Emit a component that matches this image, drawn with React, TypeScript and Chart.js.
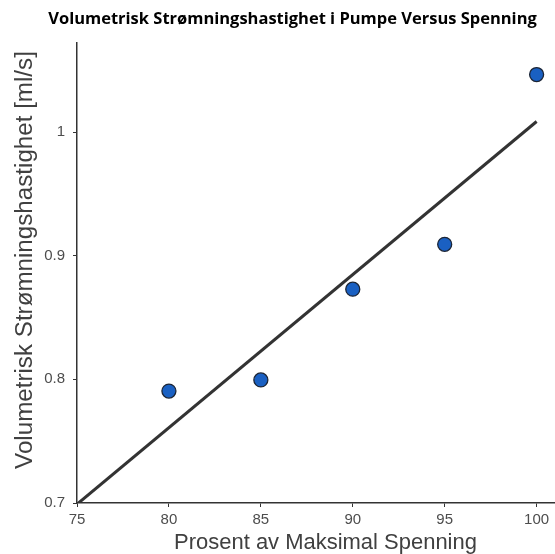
import React, { useEffect, useRef } from "react";
import { Chart, registerables } from "chart.js";

Chart.register(...registerables);

const titleText = "Volumetrisk Strømningshastighet i Pumpe Versus Spenning";
const xTitle = "Prosent av Maksimal Spenning";
const yTitle = "Volumetrisk Strømningshastighet [ml/s]";

const xValues = [80, 85, 90, 95, 100];
const yValues = [0.7905, 0.7995, 0.8729, 0.9092, 1.0465];

const fitX = [75, 100];
const fitY = [0.699, 1.0085];

const xTicks = [75, 80, 85, 90, 95, 100];
const yTicks = [0.7, 0.8, 0.9, 1];

const W = 555;
const H = 554;

const fitFont = (ctx: CanvasRenderingContext2D, text: string, weight: string, family: string, target: number) => {
  ctx.font = `${weight} 20px ${family}`;
  const w = ctx.measureText(text).width;
  return (20 * target) / w;
};

const textPlugin = {
  id: "textPlugin",
  afterDraw(chart: any) {
    const ctx = chart.ctx as CanvasRenderingContext2D;
    ctx.save();
    const tSize = fitFont(ctx, titleText, "bold", "'Open Sans', 'Liberation Sans', sans-serif", 489);
    ctx.font = `bold ${tSize}px 'Open Sans', 'Liberation Sans', sans-serif`;
    ctx.fillStyle = "#000";
    ctx.textAlign = "center";
    ctx.textBaseline = "middle";
    ctx.fillText(titleText, 292.5, 19);

    const xSize = fitFont(ctx, xTitle, "normal", "'Liberation Sans', Arial, sans-serif", 303);
    ctx.font = `${xSize}px 'Liberation Sans', Arial, sans-serif`;
    ctx.fillStyle = "#404040";
    ctx.textBaseline = "alphabetic";
    ctx.fillText(xTitle, 325.5, 549);

    const ySize = fitFont(ctx, yTitle, "normal", "'Liberation Sans', Arial, sans-serif", 418);
    ctx.font = `${ySize}px 'Liberation Sans', Arial, sans-serif`;
    ctx.translate(25, 260);
    ctx.rotate(-Math.PI / 2);
    ctx.textBaseline = "middle";
    ctx.fillText(yTitle, 0, 0);
    ctx.restore();
  },
};

export default function App() {
  const ref = useRef<HTMLCanvasElement | null>(null);

  useEffect(() => {
    if (!ref.current) return;
    const points = xValues.map((x, i) => ({ x, y: yValues[i] }));
    const line = fitX.map((x, i) => ({ x, y: fitY[i] }));
    const tickFont = { family: "'Liberation Sans', Arial, sans-serif", size: 15 };
    const chart = new Chart(ref.current, {
      type: "scatter",
      data: {
        datasets: [
          {
            label: "Data",
            data: points,
            backgroundColor: "#1a60c2",
            borderColor: "#1c2535",
            borderWidth: 1.3,
            pointRadius: 7,
            pointHoverRadius: 7,
          },
          {
            label: "Fit",
            data: line,
            showLine: true,
            borderColor: "#333333",
            borderWidth: 3,
            pointRadius: 0,
            fill: false,
          } as any,
        ],
      },
      options: {
        responsive: false,
        animation: false,
        layout: { autoPadding: false, padding: { top: 43, right: 0, left: 0, bottom: 0 } },
        plugins: {
          legend: { display: false },
          title: { display: false },
          tooltip: { enabled: false },
        },
        scales: {
          x: {
            type: "linear",
            min: 75,
            max: 101,
            afterBuildTicks: (scale: any) => {
              scale.ticks = xTicks.map((v) => ({ value: v }));
            },
            afterFit: (scale: any) => {
              scale.height = 51;
              scale.paddingLeft = 0;
              scale.paddingRight = 0;
            },
            grid: {
              display: true,
              drawOnChartArea: false,
              drawTicks: true,
              tickLength: 4,
              color: "#333",
              lineWidth: 1,
            },
            border: { display: true, color: "#333", width: 1.5 },
            ticks: {
              padding: 4,
              color: "#4d4d4d",
              font: tickFont,
              maxRotation: 0,
            },
          },
          y: {
            type: "linear",
            min: 0.7,
            max: 1.072,
            afterBuildTicks: (scale: any) => {
              scale.ticks = yTicks.map((v) => ({ value: v }));
            },
            afterFit: (scale: any) => {
              scale.width = 77;
              scale.paddingTop = 0;
              scale.paddingBottom = 0;
            },
            grid: {
              display: true,
              drawOnChartArea: false,
              drawTicks: true,
              tickLength: 4,
              color: "#333",
              lineWidth: 1,
            },
            border: { display: true, color: "#333", width: 1.5 },
            ticks: {
              padding: 8,
              color: "#4d4d4d",
              font: tickFont,
              callback: (v: any) => String(v),
            },
          },
        },
      },
      plugins: [textPlugin],
    });
    return () => chart.destroy();
  }, []);

  return (
    <div style={{ position: "absolute", left: 0, top: 0, width: W, height: H, background: "#fff" }}>
      <canvas ref={ref} width={W} height={H} style={{ display: "block", width: W, height: H }} />
    </div>
  );
}
